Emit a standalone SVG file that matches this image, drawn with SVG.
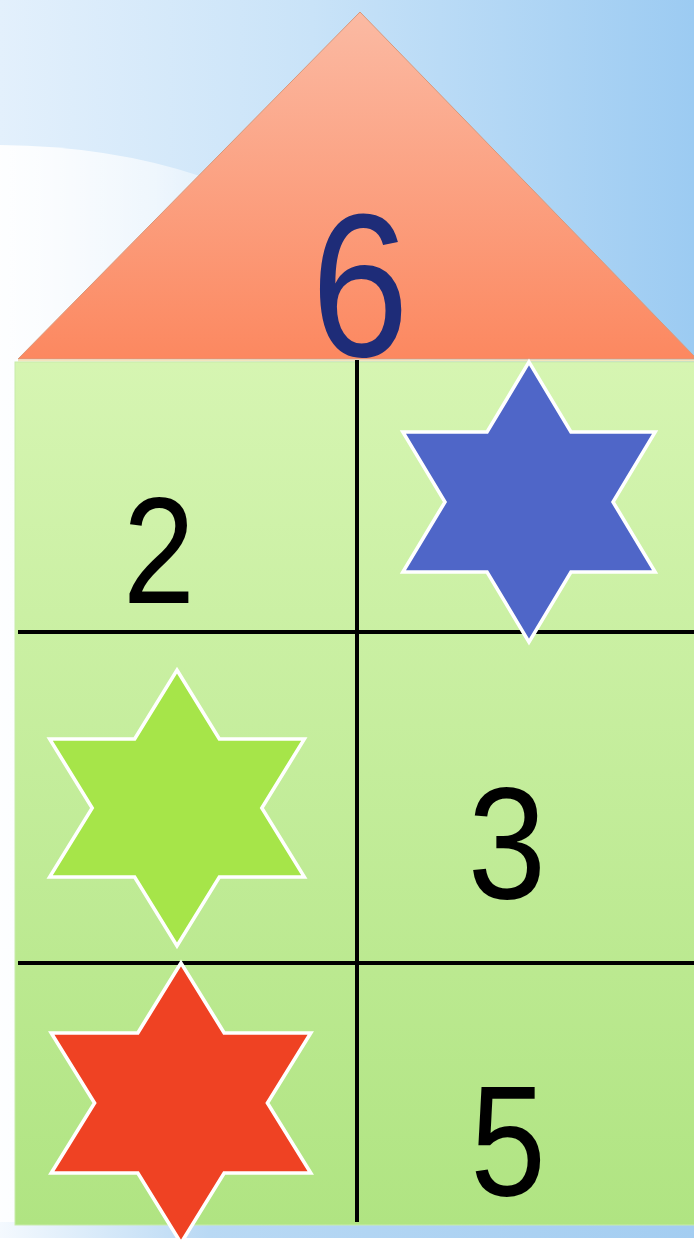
<svg xmlns="http://www.w3.org/2000/svg" width="694" height="1245" viewBox="0 0 694 1245">
  <defs>
    <linearGradient id="sky" x1="0" y1="0" x2="1" y2="0">
      <stop offset="0" stop-color="#e3f0fc"/>
      <stop offset="0.45" stop-color="#c9e3f8"/>
      <stop offset="1" stop-color="#9ccbf2"/>
    </linearGradient>
    <linearGradient id="cloud" x1="0" y1="0" x2="1" y2="0">
      <stop offset="0" stop-color="#ffffff" stop-opacity="0.95"/>
      <stop offset="0.6" stop-color="#ffffff" stop-opacity="0.6"/>
      <stop offset="1" stop-color="#ffffff" stop-opacity="0.2"/>
    </linearGradient>
    <linearGradient id="roof" x1="0" y1="0" x2="0" y2="1">
      <stop offset="0" stop-color="#fbbaa3"/>
      <stop offset="1" stop-color="#fc8860"/>
    </linearGradient>
    <linearGradient id="wall" x1="0" y1="0" x2="0" y2="1">
      <stop offset="0" stop-color="#d6f5b2"/>
      <stop offset="1" stop-color="#b0e482"/>
    </linearGradient>
    <linearGradient id="band" x1="0" y1="0" x2="1" y2="0">
      <stop offset="0" stop-color="#f4f9fe"/>
      <stop offset="0.3" stop-color="#b9d9f4"/>
      <stop offset="1" stop-color="#a3cdf1"/>
    </linearGradient>
    <path id="hex" d="M0,-140 L40.41,-70 L121.24,-70 L80.83,0 L121.24,70 L40.41,70 L0,140 L-40.41,70 L-121.24,70 L-80.83,0 L-121.24,-70 L-40.41,-70 Z"/>
  </defs>
  <style>
    .num { font-family: "Liberation Sans", Arial, sans-serif; text-anchor: middle; }
    .star { stroke: #ffffff; stroke-width: 3.5; stroke-linejoin: miter; vector-effect: non-scaling-stroke; }
    .grid { stroke: #000000; stroke-width: 4; fill: none; }
  </style>

  <!-- background -->
  <rect x="0" y="0" width="694" height="1245" fill="url(#sky)"/>
  <path d="M0,145 Q110,146 200,176 L260,240 L260,1245 L0,1245 Z" fill="url(#cloud)"/>
  <rect x="0" y="1222" width="694" height="16" fill="url(#band)"/>
  <rect x="0" y="1238" width="694" height="7" fill="#ffffff"/>

  <!-- roof -->
  <g id="roof-node">
    <polygon points="360,12 18,359 694,359 694,356" fill="url(#roof)" stroke="#d9987a" stroke-width="1"/>
    <line x1="18" y1="360.5" x2="694" y2="360.5" stroke="#f3e4bd" stroke-width="2"/>
  </g>

  <!-- wall -->
  <g id="wall-node">
    <rect x="15" y="362" width="680" height="863" fill="url(#wall)" stroke="#c8ecaa" stroke-width="1"/>
  </g>

  <!-- grid lines -->
  <g id="connectors">
    <line class="grid" x1="357" y1="360" x2="357" y2="1222"/>
    <line class="grid" x1="18" y1="632" x2="694" y2="632"/>
    <line class="grid" x1="18" y1="963" x2="694" y2="963"/>
  </g>

  <!-- roof number -->
  <g id="n6">
    <text class="num" transform="translate(360,356) scale(0.86,1)" font-size="205" fill="#1e2c78">6</text>
  </g>

  <!-- cells -->
  <g id="cell-2">
    <text class="num" transform="translate(159,603) scale(0.85,1)" font-size="152" fill="#000000">2</text>
  </g>
  <g id="star-blue">
    <use href="#hex" class="star" fill="#4f66c8" transform="translate(529,502) scale(1.04,1)"/>
  </g>
  <g id="star-green">
    <use href="#hex" class="star" fill="#a6e549" transform="translate(177,808) scale(1.05,0.985)"/>
  </g>
  <g id="cell-3">
    <text class="num" transform="translate(507,898) scale(0.88,1)" font-size="160" fill="#000000">3</text>
  </g>
  <g id="star-red">
    <use href="#hex" class="star" fill="#ef4223" transform="translate(181,1103) scale(1.07,1)"/>
  </g>
  <g id="cell-5">
    <text class="num" transform="translate(508,1195) scale(0.86,1)" font-size="158" fill="#000000">5</text>
  </g>
</svg>
